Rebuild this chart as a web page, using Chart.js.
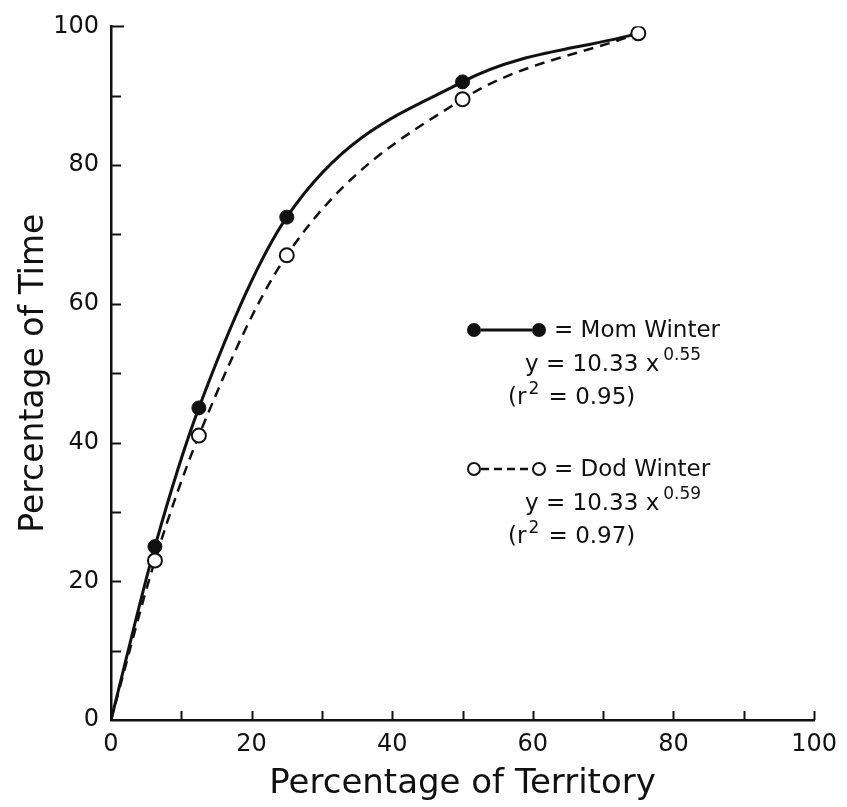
<!DOCTYPE html>
<html>
<head>
<meta charset="utf-8">
<title>Percentage of Time vs Percentage of Territory</title>
<script src="https://cdn.jsdelivr.net/npm/chart.js@4.4.0/dist/chart.umd.min.js"></script>
<style>
  body { margin: 0; background: #fff; }
  #wrap { width: 847px; height: 807px; }
</style>
</head>
<body>
<div id="wrap"><canvas id="territoryChart" width="847" height="807"></canvas></div>
<script>
// values (origin added so the curves start at 0,0)
var territory = [0, 6.25, 12.5, 25, 50, 75];
var momWinter = [0, 25, 45, 72.5, 92, 99];
var dadWinter = [0, 23, 41, 67, 89.5, 99];
var markerSize = [0, 7, 7, 7, 7, 7];
var majorTicks = [0, 20, 40, 60, 80, 100];
var minorTicks = [10, 20, 30, 40, 50, 60, 70, 80, 90, 100];

var momText = ['= Mom Winter', 'y = 10.33 x', '0.55', '0.95'];
var dadText = ['= Dod Winter', 'y = 10.33 x', '0.59', '0.97'];

var ink = '#111';

function toPoints(xs, ys) {
  var out = [];
  for (var i = 0; i < xs.length; i++) out.push({x: xs[i], y: ys[i]});
  return out;
}

// ticks in the original point into the plot, so draw them ourselves
var inwardTicks = {
  id: 'inwardTicks',
  afterDraw: function(chart) {
    var ctx = chart.ctx, a = chart.chartArea;
    var xs = chart.scales.x, ys = chart.scales.y;
    ctx.save();
    ctx.strokeStyle = ink;
    ctx.lineWidth = 2;
    minorTicks.forEach(function(v) {
      var px = Math.round(xs.getPixelForValue(v)) + 0.5;
      ctx.beginPath(); ctx.moveTo(px, a.bottom); ctx.lineTo(px, a.bottom - 9); ctx.stroke();
      var py = Math.round(ys.getPixelForValue(v)) + 0.5;
      ctx.beginPath(); ctx.moveTo(a.left, py); ctx.lineTo(a.left + (v === 100 ? 13 : 10), py); ctx.stroke();
    });
    ctx.restore();
  }
};

function dot(ctx, x, y, filled) {
  ctx.beginPath();
  ctx.arc(x, y, 6, 0, Math.PI * 2);
  ctx.fillStyle = filled ? ink : '#fff';
  ctx.fill();
  ctx.lineWidth = 2;
  ctx.strokeStyle = ink;
  ctx.stroke();
}

function legendBlock(ctx, top, texts, filled, dashed) {
  ctx.save();
  // symbol
  ctx.strokeStyle = ink;
  ctx.lineWidth = dashed ? 2.5 : 3;
  ctx.setLineDash(dashed ? [8, 5] : []);
  ctx.beginPath(); ctx.moveTo(481, top); ctx.lineTo(532, top); ctx.stroke();
  ctx.setLineDash([]);
  dot(ctx, 474, top, filled);
  dot(ctx, 539, top, filled);

  ctx.fillStyle = ink;
  ctx.textBaseline = 'middle';
  ctx.textAlign = 'left';
  ctx.font = '23px "DejaVu Sans"';
  ctx.fillText(texts[0], 554, top + 1);

  // equation with exponent
  var eq = texts[1];
  ctx.fillText(eq, 525, top + 35);
  var w = ctx.measureText(eq).width;
  ctx.font = '17px "DejaVu Sans"';
  ctx.fillText(texts[2], 525 + w + 4, top + 26);

  // (r^2 = ...)
  ctx.font = '23px "DejaVu Sans"';
  ctx.fillText('(r', 508, top + 68);
  var w2 = ctx.measureText('(r').width;
  ctx.font = '17px "DejaVu Sans"';
  ctx.fillText('2', 508 + w2 + 2, top + 60);
  var w3 = ctx.measureText('2').width;
  ctx.font = '23px "DejaVu Sans"';
  ctx.fillText(' = ' + texts[3] + ')', 508 + w2 + w3 + 4, top + 68);
  ctx.restore();
}

var legendNotes = {
  id: 'legendNotes',
  afterDraw: function(chart) {
    legendBlock(chart.ctx, 330, momText, true, false);
    legendBlock(chart.ctx, 469, dadText, false, true);
  }
};

var ctx = document.getElementById('territoryChart').getContext('2d');
var chart = new Chart(ctx, {
  type: 'line',
  data: {
    datasets: [{
      label: 'Dod Winter',
      data: toPoints(territory, dadWinter),
      borderColor: ink,
      borderWidth: 2.5,
      borderDash: [10, 7],
      pointRadius: markerSize,
      pointBackgroundColor: '#fff',
      pointBorderColor: ink,
      pointBorderWidth: 2,
      cubicInterpolationMode: 'monotone',
      fill: false
    }, {
      label: 'Mom Winter',
      data: toPoints(territory, momWinter),
      borderColor: ink,
      borderWidth: 3,
      pointRadius: markerSize,
      pointBackgroundColor: ink,
      pointBorderColor: ink,
      pointBorderWidth: 1,
      cubicInterpolationMode: 'monotone',
      fill: false
    }]
  },
  options: {
    responsive: false,
    animation: false,
    layout: { padding: { left: 0, right: 32, top: 23, bottom: 0 } },
    plugins: {
      legend: { display: false },
      tooltip: { enabled: false }
    },
    scales: {
      x: {
        type: 'linear',
        min: 0, max: 100,
        afterFit: function(s) { s.height = 87; },
        afterBuildTicks: function(s) { s.ticks = majorTicks.map(function(v) { return {value: v}; }); },
        grid: { display: false, drawTicks: false },
        border: { display: true, color: ink, width: 2.5 },
        ticks: { color: ink, font: { family: 'DejaVu Sans', size: 24 }, padding: 10, maxRotation: 0 },
        title: { display: true, text: 'Percentage of Territory', color: ink,
                 font: { family: 'DejaVu Sans', size: 34 }, padding: { top: 0, bottom: 2 } }
      },
      y: {
        type: 'linear',
        min: 0, max: 100,
        afterFit: function(s) { s.width = 111; },
        afterBuildTicks: function(s) { s.ticks = majorTicks.map(function(v) { return {value: v}; }); },
        grid: { display: false, drawTicks: false },
        border: { display: true, color: ink, width: 2.5 },
        ticks: { color: ink, font: { family: 'DejaVu Sans', size: 24 }, padding: 12 },
        title: { display: true, text: 'Percentage of Time', color: ink,
                 font: { family: 'DejaVu Sans', size: 33 }, padding: { top: 15, bottom: 0 } }
      }
    }
  },
  plugins: [inwardTicks, legendNotes]
});
</script>
</body>
</html>
